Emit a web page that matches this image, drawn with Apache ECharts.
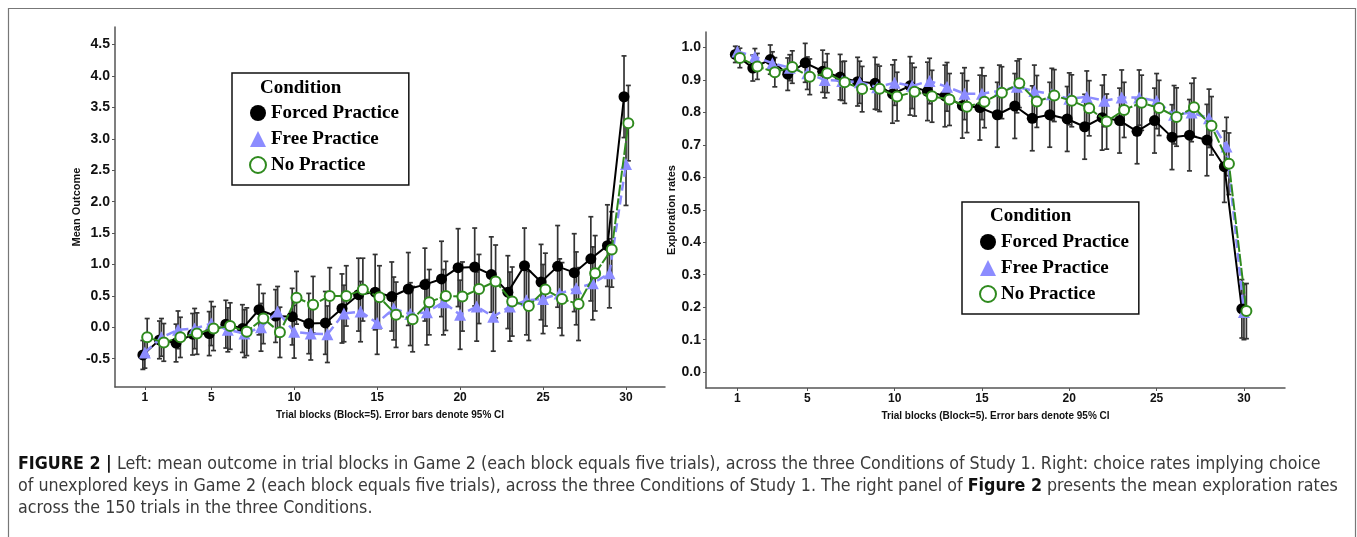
<!DOCTYPE html>
<html lang="en">
  <head>
    <meta charset="UTF-8" />
    <title>Figure 2</title>
    <script src="https://cdn.jsdelivr.net/npm/echarts@6/dist/echarts.min.js"></script>
    <style>
      html, body { margin: 0; padding: 0; background: #fff; }
    </style>
  </head>
  <body>
    <div id="fig" style="width: 1357px; height: 537px"></div>

    <script type="text/javascript">
      // trial blocks (each block = five trials)
      const blocks = [1, 2, 3, 4, 5, 6, 7, 8, 9, 10, 11, 12, 13, 14, 15, 16, 17, 18, 19, 20, 21, 22, 23, 24, 25, 26, 27, 28, 29, 30];
      const xTicks = [1, 5, 10, 15, 20, 25, 30];
      const yTicksLeft = [-0.5, 0, 0.5, 1, 1.5, 2, 2.5, 3, 3.5, 4, 4.5];
      const yTicksRight = [0, 0.1, 0.2, 0.3, 0.4, 0.5, 0.6, 0.7, 0.8, 0.9, 1];
      const conditions = ["Forced Practice", "Free Practice", "No Practice"];

      // left panel: mean outcome
      const outcomeForced = [-0.44, -0.2, -0.25, -0.11, -0.1, 0.05, -0.02, 0.28, 0.18, 0.17, 0.06, 0.07, 0.3, 0.52, 0.56, 0.49, 0.61, 0.68, 0.77, 0.95, 0.96, 0.84, 0.56, 0.98, 0.72, 0.97, 0.87, 1.09, 1.3, 3.67];
      const outcomeFree = [-0.4, -0.16, -0.04, -0.02, 0.06, -0.04, -0.1, 0.0, 0.25, -0.07, -0.1, -0.11, 0.22, 0.25, 0.07, 0.3, 0.21, 0.24, 0.4, 0.2, 0.33, 0.17, 0.33, 0.43, 0.45, 0.54, 0.62, 0.7, 0.86, 2.6];
      const outcomeNone = [-0.16, -0.24, -0.16, -0.1, -0.02, 0.02, -0.07, 0.14, -0.08, 0.47, 0.36, 0.5, 0.5, 0.6, 0.48, 0.2, 0.13, 0.4, 0.5, 0.49, 0.61, 0.73, 0.41, 0.34, 0.6, 0.45, 0.37, 0.86, 1.24, 3.25];
      // half widths of the 95% CI
      const outcomeForcedCI = [0.23, 0.3, 0.3, 0.33, 0.35, 0.38, 0.38, 0.4, 0.42, 0.45, 0.48, 0.5, 0.55, 0.58, 0.6, 0.55, 0.58, 0.58, 0.6, 0.62, 0.62, 0.6, 0.58, 0.6, 0.6, 0.65, 0.62, 0.67, 0.65, 0.65];
      const outcomeFreeCI = [0.25, 0.3, 0.3, 0.32, 0.35, 0.35, 0.38, 0.38, 0.4, 0.42, 0.42, 0.45, 0.45, 0.48, 0.5, 0.5, 0.5, 0.52, 0.52, 0.55, 0.55, 0.55, 0.55, 0.55, 0.55, 0.55, 0.58, 0.58, 0.55, 0.66];
      const outcomeNoneCI = [0.3, 0.3, 0.32, 0.33, 0.35, 0.37, 0.38, 0.4, 0.4, 0.42, 0.45, 0.45, 0.48, 0.5, 0.5, 0.52, 0.52, 0.52, 0.55, 0.55, 0.55, 0.58, 0.55, 0.55, 0.58, 0.58, 0.58, 0.6, 0.6, 0.6];

      // right panel: exploration rates
      const rateForced = [0.979, 0.937, 0.963, 0.918, 0.953, 0.927, 0.909, 0.895, 0.89, 0.857, 0.882, 0.865, 0.851, 0.821, 0.815, 0.793, 0.82, 0.782, 0.793, 0.78, 0.756, 0.784, 0.775, 0.742, 0.775, 0.724, 0.73, 0.715, 0.633, 0.195];
      const rateFree = [0.988, 0.972, 0.952, 0.938, 0.921, 0.9, 0.897, 0.893, 0.878, 0.892, 0.882, 0.897, 0.879, 0.858, 0.858, 0.866, 0.879, 0.866, 0.856, 0.842, 0.848, 0.836, 0.846, 0.846, 0.835, 0.793, 0.8, 0.782, 0.695, 0.185];
      const rateNone = [0.968, 0.942, 0.924, 0.94, 0.91, 0.921, 0.893, 0.872, 0.873, 0.849, 0.864, 0.85, 0.84, 0.818, 0.833, 0.861, 0.89, 0.834, 0.852, 0.836, 0.813, 0.772, 0.808, 0.83, 0.814, 0.786, 0.816, 0.759, 0.642, 0.188];
      const rateForcedCI = [0.025, 0.04, 0.045, 0.05, 0.06, 0.065, 0.07, 0.075, 0.08, 0.09, 0.09, 0.09, 0.095, 0.1, 0.1, 0.1, 0.1, 0.1, 0.1, 0.1, 0.1, 0.1, 0.1, 0.1, 0.1, 0.1, 0.11, 0.11, 0.11, 0.09];
      const rateFreeCI = [0.015, 0.025, 0.035, 0.04, 0.05, 0.055, 0.06, 0.065, 0.07, 0.07, 0.07, 0.07, 0.075, 0.08, 0.08, 0.08, 0.08, 0.08, 0.08, 0.08, 0.08, 0.08, 0.085, 0.085, 0.085, 0.09, 0.09, 0.09, 0.09, 0.085];
      const rateNoneCI = [0.03, 0.04, 0.045, 0.05, 0.055, 0.06, 0.065, 0.07, 0.07, 0.075, 0.075, 0.08, 0.08, 0.08, 0.08, 0.08, 0.075, 0.08, 0.08, 0.08, 0.085, 0.085, 0.085, 0.085, 0.085, 0.09, 0.09, 0.09, 0.095, 0.085];

      const BLUE = "#8c8cff";
      const GREEN = "#2f8a1e";
      const AXIS = "#555";
      // small horizontal dodge so the three conditions don't sit on top of each other
      const dodge = [-0.12, 0, 0.14];

      const chart = echarts.init(document.getElementById("fig"));

      function points(vals, k) {
        return vals.map((v, i) => [blocks[i] + dodge[k], v]);
      }
      function bars(vals, ci, k) {
        return vals.map((v, i) => [blocks[i] + dodge[k], v - ci[i], v + ci[i]]);
      }

      function drawErrorBar(params, api) {
        const hi = api.coord([api.value(0), api.value(2)]);
        const lo = api.coord([api.value(0), api.value(1)]);
        const cap = 2.5;
        const st = { stroke: "#333", lineWidth: 1.7 };
        return {
          type: "group",
          children: [
            { type: "line", shape: { x1: hi[0], y1: hi[1], x2: lo[0], y2: lo[1] }, style: st },
            { type: "line", shape: { x1: hi[0] - cap, y1: hi[1], x2: hi[0] + cap, y2: hi[1] }, style: st },
            { type: "line", shape: { x1: lo[0] - cap, y1: lo[1], x2: lo[0] + cap, y2: lo[1] }, style: st },
          ],
        };
      }

      function errSeries(idx, data) {
        return {
          type: "custom",
          xAxisIndex: idx,
          yAxisIndex: idx,
          renderItem: drawErrorBar,
          encode: { x: 0, y: [1, 2] },
          data: data,
          silent: true,
          z: 1,
        };
      }

      function lineSeries(idx, k, data) {
        const base = {
          name: conditions[k],
          type: "line",
          xAxisIndex: idx,
          yAxisIndex: idx,
          data: data,
          symbolSize: 11,
          z: 3 + k,
          animation: false,
        };
        if (k === 0) {
          base.symbol = "circle";
          base.itemStyle = { color: "#000" };
          base.lineStyle = { color: "#000", width: 2 };
        } else if (k === 1) {
          base.symbol = "triangle";
          base.symbolSize = 12;
          base.itemStyle = { color: BLUE };
          base.lineStyle = { color: BLUE, width: 2.5, type: [9, 5] };
        } else {
          base.symbol = "emptyCircle";
          base.symbolSize = 10;
          base.itemStyle = { color: GREEN, borderWidth: 1.2 };
          base.lineStyle = { color: GREEN, width: 2, type: [12, 2] };
        }
        return base;
      }

      const bold = { fontFamily: "Arial, 'Liberation Sans', sans-serif", fontWeight: "bold", color: "#111" };

      function xAxisFor(idx) {
        return {
          gridIndex: idx,
          type: "value",
          min: -0.8,
          max: 32.35,
          name: "Trial blocks (Block=5). Error bars denote 95% CI",
          nameLocation: "middle",
          nameGap: 23,
          nameTextStyle: Object.assign({ fontSize: 10 }, bold),
          splitLine: { show: false },
          axisLine: { onZero: false, lineStyle: { color: AXIS, width: 1.5 } },
          axisTick: { customValues: xTicks, length: 3, lineStyle: { color: AXIS } },
          axisLabel: Object.assign({ customValues: xTicks, fontSize: 12, margin: 5 }, bold),
        };
      }

      function yAxisFor(idx, lo, hi, ticks, name, gap) {
        return {
          gridIndex: idx,
          type: "value",
          min: lo,
          max: hi,
          name: name,
          nameLocation: "middle",
          nameGap: gap,
          nameTextStyle: Object.assign({ fontSize: 11 }, bold),
          splitLine: { show: false },
          axisLine: { onZero: false, lineStyle: { color: AXIS, width: 1.5 } },
          axisTick: { customValues: ticks, length: 3, lineStyle: { color: AXIS } },
          axisLabel: Object.assign({ customValues: ticks, fontSize: 14, margin: 5, formatter: (v) => v.toFixed(1) }, bold),
        };
      }

      const serif = { fontFamily: "'Liberation Serif', 'Times New Roman', serif", fontWeight: "bold", fontSize: 19, color: "#000" };

      function legendAt(left, top) {
        return {
          left: left,
          top: top,
          orient: "vertical",
          padding: [29, 10, 9, 17],
          itemGap: 4,
          itemWidth: 16,
          itemHeight: 16,
          borderColor: "#111",
          borderWidth: 1.5,
          borderRadius: 0,
          backgroundColor: "#fff",
          selectedMode: false,
          textStyle: Object.assign({ lineHeight: 22 }, serif),
          data: [
            { name: conditions[0], icon: "circle" },
            { name: conditions[1], icon: "triangle" },
            { name: conditions[2], icon: "emptyCircle" },
          ],
        };
      }

      const captionFont = "'Liberation Sans Narrow', 'DejaVu Sans Condensed', 'Arial Narrow', sans-serif";
      function captionLine(y, text) {
        return {
          type: "text",
          left: 18,
          top: y,
          z: 20,
          style: {
            text: text,
            font: "17.7px " + captionFont,
            fill: "#3a3a3a",
            rich: {
              b: { fontFamily: captionFont, fontSize: 17.7, fontWeight: "bold", fill: "#111" },
            },
          },
        };
      }

      const option = {
        animation: false,
        backgroundColor: "#fff",
        grid: [
          { left: 115, right: 692, top: 27, bottom: 150 },
          { left: 706, right: 72, top: 32, bottom: 149 },
        ],
        xAxis: [xAxisFor(0), xAxisFor(1)],
        yAxis: [
          yAxisFor(0, -0.95, 4.78, yTicksLeft, "Mean Outcome", 31),
          yAxisFor(1, -0.049, 1.048, yTicksRight, "Exploration rates", 28),
        ],
        legend: [legendAt(232, 73), legendAt(962, 202)],
        graphic: [
          { type: "rect", left: 6, top: 6, z: 0, silent: true, shape: { width: 1347, height: 545 }, style: { fill: "none", stroke: "#777", lineWidth: 1.2 } },
          { type: "text", left: 260, top: 79, z: 20, style: { text: "Condition", font: "bold 19px 'Liberation Serif', serif", fill: "#000" } },
          { type: "text", left: 990, top: 207, z: 20, style: { text: "Condition", font: "bold 19px 'Liberation Serif', serif", fill: "#000" } },
          captionLine(455, "{b|FIGURE 2 |} Left: mean outcome in trial blocks in Game 2 (each block equals five trials), across the three Conditions of Study 1. Right: choice rates implying choice"),
          captionLine(477, "of unexplored keys in Game 2 (each block equals five trials), across the three Conditions of Study 1. The right panel of {b|Figure 2} presents the mean exploration rates"),
          captionLine(499, "across the 150 trials in the three Conditions."),
        ],
        series: [
          errSeries(0, bars(outcomeForced, outcomeForcedCI, 0)),
          errSeries(0, bars(outcomeFree, outcomeFreeCI, 1)),
          errSeries(0, bars(outcomeNone, outcomeNoneCI, 2)),
          errSeries(1, bars(rateForced, rateForcedCI, 0)),
          errSeries(1, bars(rateFree, rateFreeCI, 1)),
          errSeries(1, bars(rateNone, rateNoneCI, 2)),
          lineSeries(0, 0, points(outcomeForced, 0)),
          lineSeries(0, 1, points(outcomeFree, 1)),
          lineSeries(0, 2, points(outcomeNone, 2)),
          lineSeries(1, 0, points(rateForced, 0)),
          lineSeries(1, 1, points(rateFree, 1)),
          lineSeries(1, 2, points(rateNone, 2)),
        ],
      };

      chart.setOption(option);
    </script>
  </body>
</html>
